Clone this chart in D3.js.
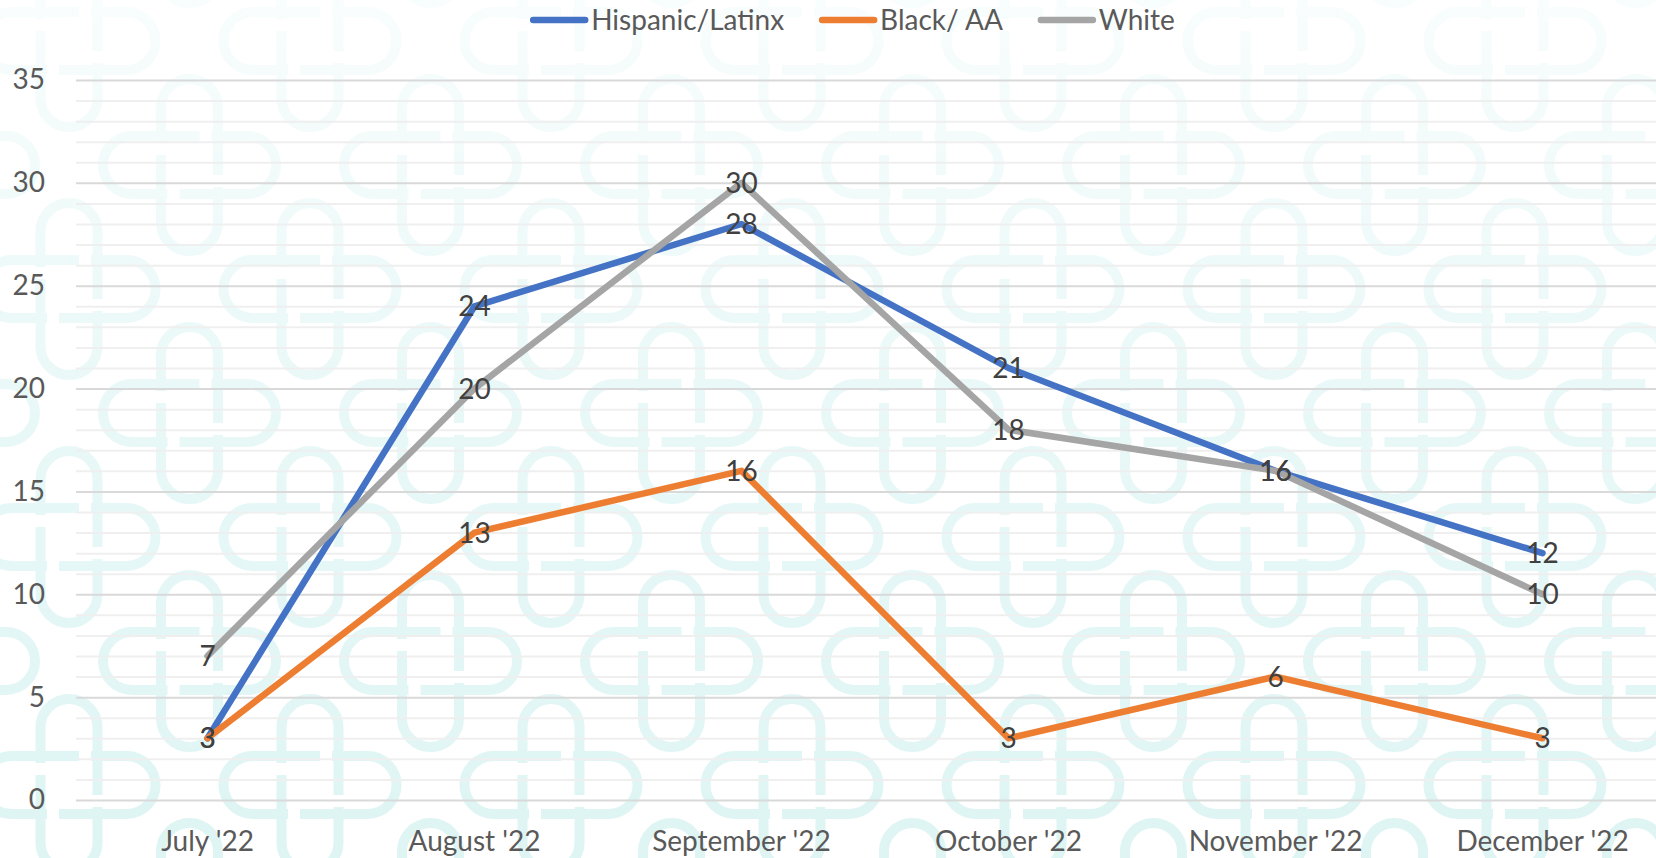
<!DOCTYPE html>
<html>
<head>
<meta charset="utf-8">
<script src="https://cdn.jsdelivr.net/npm/d3@7"></script>
<style>
  body { margin: 0; background: #fff; }
  svg { display: block; }
  text { font-family: Lato, 'Noto Sans', sans-serif; }
</style>
</head>
<body>
<svg></svg>
<script>
const months = ["July '22", "August '22", "September '22", "October '22", "November '22", "December '22"]
const hispanic = [3, 24, 28, 21, 16, 12]
const blackAA = [3, 13, 16, 3, 6, 3]
const white = [7, 20, 30, 18, 16, 10]
const seriesNames = ['Hispanic/Latinx', 'Black/ AA', 'White']
const seriesColors = ['#4472C4', '#ED7D31', '#A5A5A5']
const yTicks = [0, 5, 10, 15, 20, 25, 30, 35]

const width = 1656
const height = 858
const margin = { top: 80, right: 0, bottom: 58, left: 76 }
const fontSize = 28

const svg = d3.select('svg')
  .attr('width', width)
  .attr('height', height)
  .attr('viewBox', [0, 0, width, height])

// watermark background (light cyan interlaced pills, fading towards the top)
function drawWatermark() {
  const defs = svg.append('defs')
  const grad = defs.append('linearGradient')
    .attr('id', 'fade')
    .attr('x1', 0).attr('y1', 0).attr('x2', 0).attr('y2', 1)
  grad.append('stop').attr('offset', '0%').attr('stop-color', '#fff').attr('stop-opacity', 0.8)
  grad.append('stop').attr('offset', '50%').attr('stop-color', '#fff').attr('stop-opacity', 0.3)
  grad.append('stop').attr('offset', '100%').attr('stop-color', '#fff').attr('stop-opacity', 0)

  const cells = []
  d3.range(-1, 9).forEach(r => {
    d3.range(-1, 9).forEach(c => {
      cells.push([69 + c * 241 + (r % 2 ? 120.5 : 0), 41 + r * 124])
    })
  })

  const g = svg.append('g')
    .attr('fill', 'none')
    .attr('stroke', '#def5f4')
    .attr('stroke-width', 10)

  const motif = g.selectAll('g').data(cells).join('g')
    .attr('transform', d => `translate(${d[0]},${d[1]})`)
  motif.append('rect')
    .attr('x', -28.5).attr('y', -86).attr('width', 57).attr('height', 172).attr('rx', 28.5)
  motif.append('rect')
    .attr('x', -86.5).attr('y', -29).attr('width', 173).attr('height', 58).attr('rx', 29)
  // small breaks where the strands pass under each other
  motif.selectAll('.gap')
    .data([[-28.5, -16], [28.5, 16], [-16, 29], [16, -29]])
    .join('rect')
    .attr('x', d => d[0] - 6).attr('y', d => d[1] - 6)
    .attr('width', 12).attr('height', 12)
    .attr('fill', '#fff').attr('stroke', 'none')

  svg.append('rect')
    .attr('width', width).attr('height', height)
    .attr('fill', 'url(#fade)')
}

drawWatermark()

const x = d3.scaleBand()
  .domain(months)
  .range([74, 1676])

const y = d3.scaleLinear()
  .domain([0, 35])
  .range([height - margin.bottom, margin.top])

const cx = i => x(months[i]) + x.bandwidth() / 2

// grid lines: minor every 1, major every 5
svg.append('g')
  .attr('transform', `translate(${margin.left},0)`)
  .call(d3.axisLeft(y).tickValues(d3.range(0, 36)).tickSize(-(width - margin.left)).tickFormat(''))
  .call(g => g.select('.domain').remove())
  .call(g => g.selectAll('.tick line')
    .attr('stroke', d => d % 5 === 0 ? '#d9d9d9' : '#efefef')
    .attr('stroke-width', 2))

// y labels
svg.append('g')
  .attr('transform', `translate(${margin.left},0)`)
  .call(d3.axisLeft(y).tickValues(yTicks).tickSize(0).tickPadding(31))
  .call(g => g.select('.domain').remove())
  .call(g => g.selectAll('text')
    .attr('fill', '#595959')
    .style('font-size', fontSize + 'px')
    .style('font-family', "Lato, 'Noto Sans', sans-serif"))

// x labels
svg.append('g')
  .attr('transform', `translate(0,${height - margin.bottom})`)
  .call(d3.axisBottom(x).tickSize(0).tickPadding(31))
  .call(g => g.select('.domain').remove())
  .call(g => g.selectAll('text')
    .attr('fill', '#595959')
    .style('font-size', fontSize + 'px')
    .style('font-family', "Lato, 'Noto Sans', sans-serif"))

const series = [hispanic, blackAA, white]

const line = d3.line()
  .x((d, i) => cx(i))
  .y(d => y(d))

svg.append('g')
  .selectAll('path')
  .data(series)
  .join('path')
  .attr('d', line)
  .attr('fill', 'none')
  .attr('stroke', (d, i) => seriesColors[i])
  .attr('stroke-width', 6.5)
  .attr('stroke-linejoin', 'round')
  .attr('stroke-linecap', 'round')

// data labels centred on the points
series.forEach(values => {
  svg.append('g')
    .selectAll('text')
    .data(values)
    .join('text')
    .attr('x', (d, i) => cx(i))
    .attr('y', d => y(d))
    .attr('dy', '0.36em')
    .attr('text-anchor', 'middle')
    .attr('fill', '#404040')
    .style('font-size', fontSize + 'px')
    .text(d => d)
})

// legend
function drawLegend() {
  const sample = 58
  const gap = 3
  const spacing = 35
  const legend = svg.append('g')
  let pos = 0
  seriesNames.forEach((name, i) => {
    const item = legend.append('g').attr('transform', `translate(${pos},0)`)
    item.append('line')
      .attr('x1', 3).attr('x2', sample - 3)
      .attr('y1', 20).attr('y2', 20)
      .attr('stroke', seriesColors[i])
      .attr('stroke-width', 6.5)
      .attr('stroke-linecap', 'round')
    const t = item.append('text')
      .attr('x', sample + gap)
      .attr('y', 20)
      .attr('dy', '0.36em')
      .attr('fill', '#595959')
      .style('font-size', fontSize + 'px')
      .text(name)
    pos += sample + gap + t.node().getComputedTextLength() + spacing
  })
  const total = pos - spacing
  legend.attr('transform', `translate(${852.5 - total / 2},0)`)
}

drawLegend()
</script>
</body>
</html>
